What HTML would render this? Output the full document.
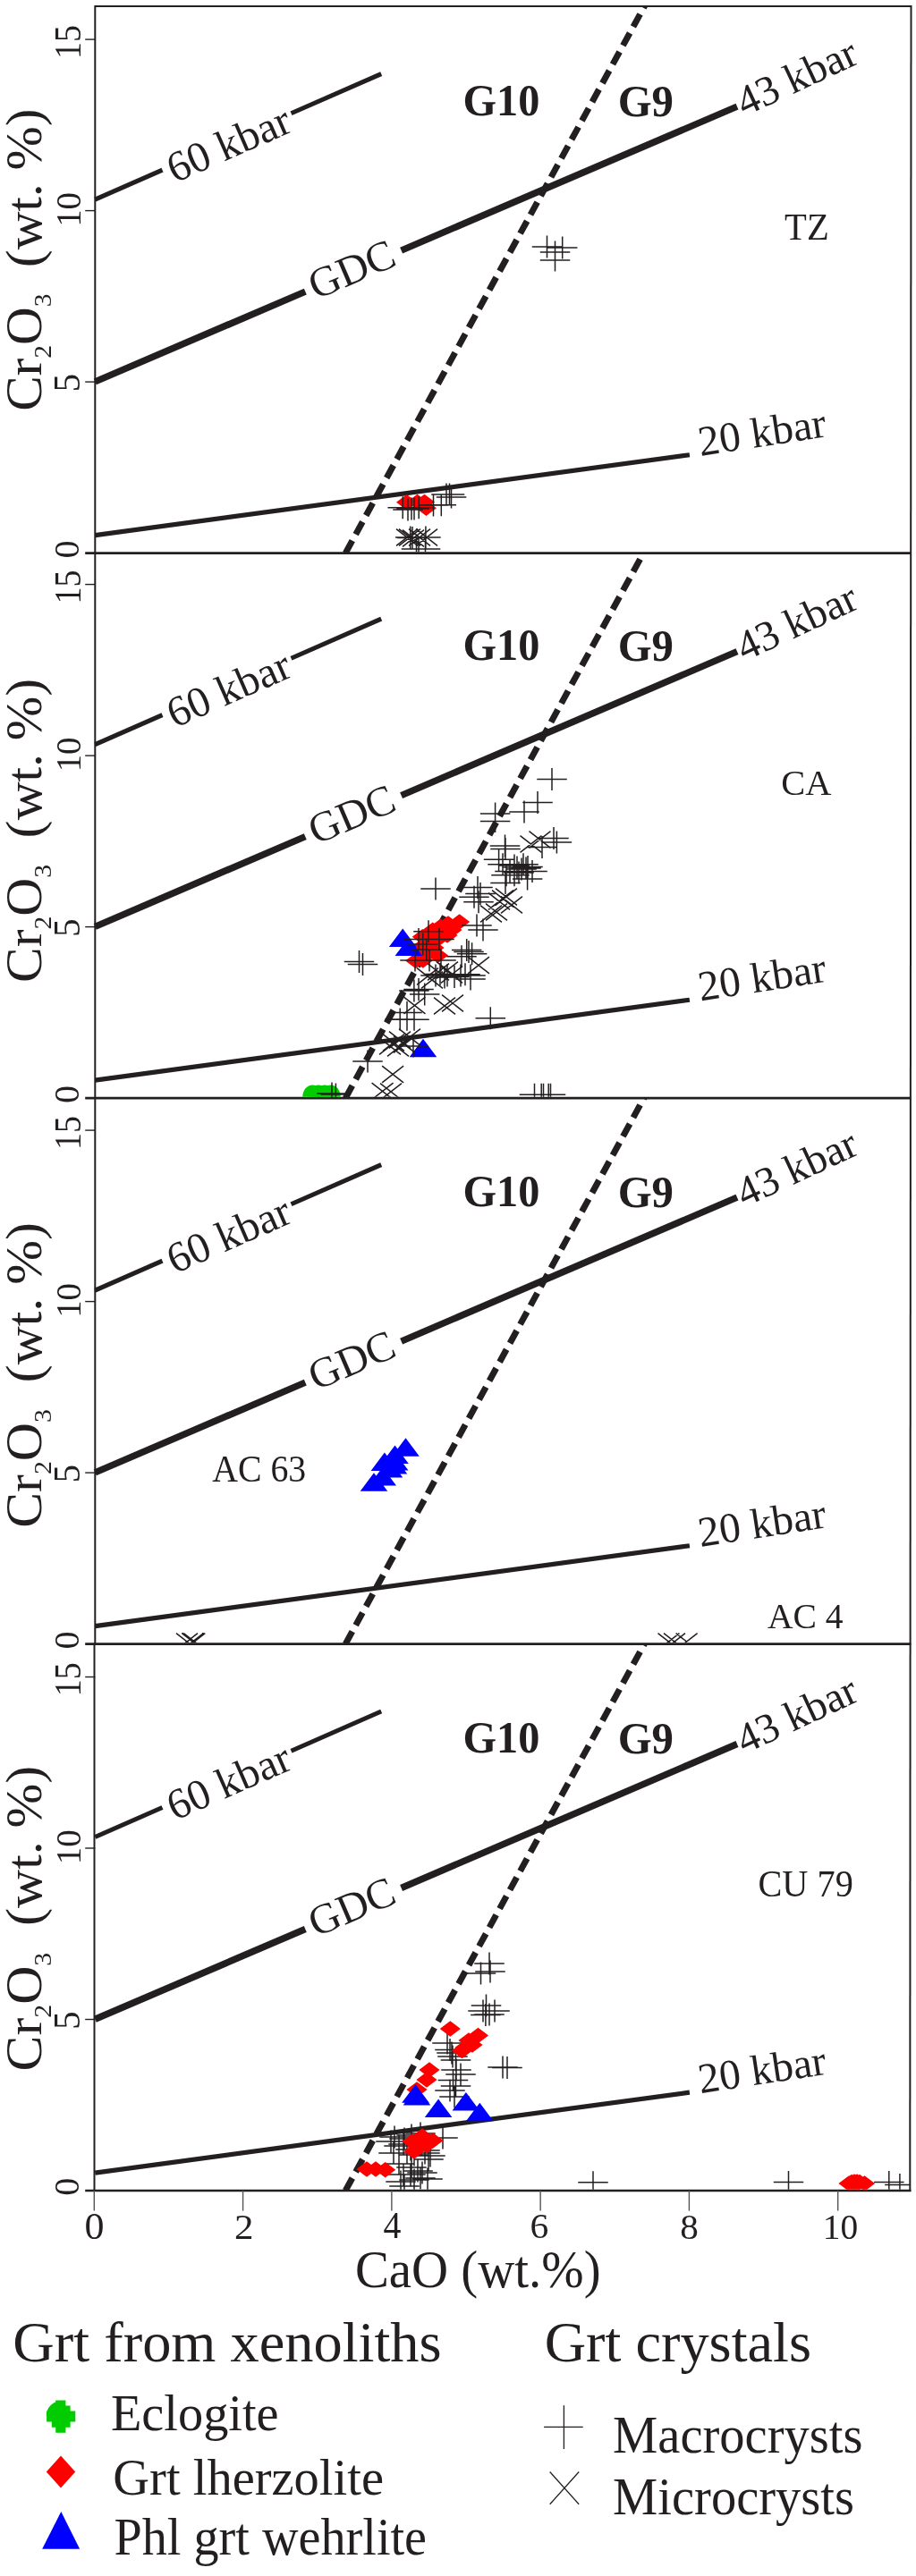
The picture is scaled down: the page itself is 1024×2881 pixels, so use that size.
<!DOCTYPE html>
<html><head><meta charset="utf-8"><style>html,body{margin:0;padding:0;background:#fff}svg{display:block;will-change:transform}</style></head>
<body><svg width="1024" height="2881" viewBox="0 0 1024 2881">
<line x1="106.3" y1="6.9" x2="1018.5" y2="6.9" stroke="#231f20" stroke-width="2"/>
<line x1="106.3" y1="5.9" x2="106.3" y2="1838.6" stroke="#231f20" stroke-width="2"/>
<line x1="105.5" y1="1838.6" x2="105.5" y2="2451" stroke="#231f20" stroke-width="2"/>
<line x1="1018.5" y1="5.9" x2="1017.3" y2="2451" stroke="#231f20" stroke-width="2"/>
<line x1="95.2" y1="618.6" x2="1018.4" y2="618.6" stroke="#231f20" stroke-width="2.6"/>
<line x1="95.2" y1="427.1" x2="106.3" y2="427.1" stroke="#231f20" stroke-width="1.4"/>
<line x1="95.2" y1="235.6" x2="106.3" y2="235.6" stroke="#231f20" stroke-width="1.4"/>
<line x1="95.2" y1="44.1" x2="106.3" y2="44.1" stroke="#231f20" stroke-width="1.4"/>
<line x1="106.3" y1="223.13" x2="181.5" y2="190.09" stroke="#231f20" stroke-width="5"/>
<line x1="325.5" y1="126.83" x2="426.2" y2="82.59" stroke="#231f20" stroke-width="5"/>
<line x1="106.3" y1="426.89" x2="341.3" y2="326.12" stroke="#231f20" stroke-width="7.5"/>
<line x1="448.6" y1="280.11" x2="824" y2="119.14" stroke="#231f20" stroke-width="7.5"/>
<line x1="106.3" y1="598.7" x2="770.9" y2="508.71" stroke="#231f20" stroke-width="5.2"/>
<clipPath id="cp0"><rect x="106.3" y="6.9" width="912" height="611.7"/></clipPath>
<line clip-path="url(#cp0)" x1="386.2" y1="618.6" x2="735.96" y2="-21.4" stroke="#231f20" stroke-width="7" stroke-dasharray="15.9 8.06"/>
<line x1="95.2" y1="1228.1" x2="1018.4" y2="1228.1" stroke="#231f20" stroke-width="2.6"/>
<line x1="95.2" y1="1036.6" x2="106.3" y2="1036.6" stroke="#231f20" stroke-width="1.4"/>
<line x1="95.2" y1="845.1" x2="106.3" y2="845.1" stroke="#231f20" stroke-width="1.4"/>
<line x1="95.2" y1="653.6" x2="106.3" y2="653.6" stroke="#231f20" stroke-width="1.4"/>
<line x1="106.3" y1="832.63" x2="181.5" y2="799.59" stroke="#231f20" stroke-width="5"/>
<line x1="325.5" y1="736.33" x2="426.2" y2="692.09" stroke="#231f20" stroke-width="5"/>
<line x1="106.3" y1="1036.39" x2="341.3" y2="935.62" stroke="#231f20" stroke-width="7.5"/>
<line x1="448.6" y1="889.61" x2="824" y2="728.64" stroke="#231f20" stroke-width="7.5"/>
<line x1="106.3" y1="1208.2" x2="770.9" y2="1118.21" stroke="#231f20" stroke-width="5.2"/>
<clipPath id="cp1"><rect x="106.3" y="618.6" width="912" height="609.5"/></clipPath>
<line clip-path="url(#cp1)" x1="386.2" y1="1228.1" x2="735.96" y2="588.1" stroke="#231f20" stroke-width="7" stroke-dasharray="15.9 8.06"/>
<line x1="95.2" y1="1838.6" x2="1018.4" y2="1838.6" stroke="#231f20" stroke-width="2.6"/>
<line x1="95.2" y1="1647.1" x2="106.3" y2="1647.1" stroke="#231f20" stroke-width="1.4"/>
<line x1="95.2" y1="1455.6" x2="106.3" y2="1455.6" stroke="#231f20" stroke-width="1.4"/>
<line x1="95.2" y1="1264.1" x2="106.3" y2="1264.1" stroke="#231f20" stroke-width="1.4"/>
<line x1="106.3" y1="1443.13" x2="181.5" y2="1410.09" stroke="#231f20" stroke-width="5"/>
<line x1="325.5" y1="1346.83" x2="426.2" y2="1302.59" stroke="#231f20" stroke-width="5"/>
<line x1="106.3" y1="1646.89" x2="341.3" y2="1546.12" stroke="#231f20" stroke-width="7.5"/>
<line x1="448.6" y1="1500.11" x2="824" y2="1339.14" stroke="#231f20" stroke-width="7.5"/>
<line x1="106.3" y1="1818.7" x2="770.9" y2="1728.71" stroke="#231f20" stroke-width="5.2"/>
<clipPath id="cp2"><rect x="106.3" y="1228.1" width="912" height="610.5"/></clipPath>
<line clip-path="url(#cp2)" x1="386.2" y1="1838.6" x2="735.96" y2="1198.6" stroke="#231f20" stroke-width="7" stroke-dasharray="15.9 8.06"/>
<line x1="95.2" y1="2450" x2="1018.4" y2="2450" stroke="#231f20" stroke-width="2.6"/>
<line x1="95.2" y1="2258.5" x2="106.3" y2="2258.5" stroke="#231f20" stroke-width="1.4"/>
<line x1="95.2" y1="2067" x2="106.3" y2="2067" stroke="#231f20" stroke-width="1.4"/>
<line x1="95.2" y1="1875.5" x2="106.3" y2="1875.5" stroke="#231f20" stroke-width="1.4"/>
<line x1="106.3" y1="2054.53" x2="181.5" y2="2021.49" stroke="#231f20" stroke-width="5"/>
<line x1="325.5" y1="1958.23" x2="426.2" y2="1913.99" stroke="#231f20" stroke-width="5"/>
<line x1="106.3" y1="2258.29" x2="341.3" y2="2157.52" stroke="#231f20" stroke-width="7.5"/>
<line x1="448.6" y1="2111.51" x2="824" y2="1950.54" stroke="#231f20" stroke-width="7.5"/>
<line x1="106.3" y1="2430.1" x2="770.9" y2="2340.11" stroke="#231f20" stroke-width="5.2"/>
<clipPath id="cp3"><rect x="106.3" y="1838.6" width="912" height="611.4"/></clipPath>
<line clip-path="url(#cp3)" x1="386.2" y1="2450" x2="735.96" y2="1810" stroke="#231f20" stroke-width="7" stroke-dasharray="15.9 8.06"/>
<clipPath id="mc0"><rect x="107.3" y="7.9" width="910.2" height="609.4"/></clipPath>
<g clip-path="url(#mc0)">
<path d="M454.6 552.9L466.2 561.7L454.6 570.5L443 561.7ZM466.5 552.7L478.1 561.5L466.5 570.3L454.9 561.5ZM474.5 552.7L486.1 561.5L474.5 570.3L462.9 561.5ZM476.4 559.4L488 568.2L476.4 577L464.8 568.2Z" fill="#ff0000"/>
<path d="M594.75 276H628.25M611.5 263.5V288.5M611.95 277H645.45M628.7 264.5V289.5M603.75 282H637.25M620.5 269.5V294.5M603.75 291H637.25M620.5 278.5V303.5M433.45 567.7H466.95M450.2 555.2V580.2M439.25 570H472.75M456 557.5V582.5M443.25 569H476.75M460 556.5V581.5M446.25 569H479.75M463 556.5V581.5M451.45 567.7H484.95M468.2 555.2V580.2M467.75 565H501.25M484.5 552.5V577.5M476.55 564.7H510.05M493.3 552.2V577.2M485.75 553H519.25M502.5 540.5V565.5M487.75 556H521.25M504.5 543.5V568.5M482.25 553H515.75M499 540.5V565.5M441.95 601H475.45M458.7 588.5V613.5M444.25 601.5H477.75M461 589V614M459.15 601H492.65M475.9 588.5V613.5M448.75 614H482.25M465.5 601.5V626.5M451.25 614H484.75M468 601.5V626.5M458.75 614H492.25M475.5 601.5V626.5" stroke="#231f20" stroke-width="1.5" fill="none"/>
<path d="M443 591.7L467 610.3M443 610.3L467 591.7M446 591.7L470 610.3M446 610.3L470 591.7M450 592.7L474 611.3M450 611.3L474 592.7M457 591.7L481 610.3M457 610.3L481 591.7M465 591.7L489 610.3M465 610.3L489 591.7" stroke="#231f20" stroke-width="1.5" fill="none"/>
</g>
<clipPath id="mc1"><rect x="107.3" y="619.6" width="910.2" height="607.2"/></clipPath>
<g clip-path="url(#mc1)">
<ellipse cx="349.3" cy="1226.5" rx="11" ry="13" fill="#00cc00"/><ellipse cx="356" cy="1226.5" rx="11" ry="13" fill="#00cc00"/><ellipse cx="363" cy="1226.5" rx="11" ry="13" fill="#00cc00"/><ellipse cx="369.7" cy="1226.5" rx="11" ry="13" fill="#00cc00"/>
<path d="M513.6 1022.2L525.2 1031L513.6 1039.8L502 1031ZM501 1024.2L512.6 1033L501 1041.8L489.4 1033ZM492.4 1027.6L504 1036.4L492.4 1045.2L480.8 1036.4ZM483.7 1031.4L495.3 1040.2L483.7 1049L472.1 1040.2ZM472.3 1039L483.9 1047.8L472.3 1056.6L460.7 1047.8ZM480 1036.2L491.6 1045L480 1053.8L468.4 1045ZM495 1033.2L506.6 1042L495 1050.8L483.4 1042ZM505 1031.2L516.6 1040L505 1048.8L493.4 1040ZM490 1041.2L501.6 1050L490 1058.8L478.4 1050ZM478 1046.2L489.6 1055L478 1063.8L466.4 1055ZM470 1051.2L481.6 1060L470 1068.8L458.4 1060ZM489.5 1059.7L501.1 1068.5L489.5 1077.3L477.9 1068.5ZM480 1056.2L491.6 1065L480 1073.8L468.4 1065ZM472.8 1065.1L484.4 1073.9L472.8 1082.7L461.2 1073.9ZM464.7 1065.7L476.3 1074.5L464.7 1083.3L453.1 1074.5ZM485 1051.2L496.6 1060L485 1068.8L473.4 1060ZM500 1037.2L511.6 1046L500 1054.8L488.4 1046Z" fill="#ff0000"/>
<path d="M450.2 1038.6L465.5 1059.1L434.9 1059.1ZM456.9 1048.4L472.2 1068.9L441.6 1068.9ZM473 1161.7L488.3 1182.2L457.7 1182.2Z" fill="#0000ff"/>
<path d="M600.25 871.6H633.75M617 859.1V884.1M584.25 897.5H617.75M601 885V910M569.25 908H602.75M586 895.5V920.5M536.85 910H570.35M553.6 897.5V922.5M536.85 918.5H570.35M553.6 906V931M602.25 937.5H635.75M619 925V950M605.65 942H639.15M622.4 929.5V954.5M589.25 947.5H622.75M606 935V960M547.75 946H581.25M564.5 933.5V958.5M548.25 949.6H581.75M565 937.1V962.1M540.85 961.3H574.35M557.6 948.8V973.8M545.25 966.7H578.75M562 954.2V979.2M568.25 966.7H601.75M585 954.2V979.2M573.25 969.5H606.75M590 957V982M553.25 974.4H586.75M570 961.9V986.9M578.25 974.4H611.75M595 961.9V986.9M549.25 978.8H582.75M566 966.3V991.3M558.25 978.8H591.75M575 966.3V991.3M572.85 983.1H606.35M589.6 970.6V995.6M548.25 987.5H581.75M565 975V1000M517.25 992.4H550.75M534 979.9V1004.9M520.25 999.5H553.75M537 987V1012M513.25 1003.3H546.75M530 990.8V1015.8M518.25 1008.8H551.75M535 996.3V1021.3M470.25 994H503.75M487 981.5V1006.5M516.25 1035H549.75M533 1022.5V1047.5M523.25 1040H556.75M540 1027.5V1052.5M507.25 1064.6H540.75M524 1052.1V1077.1M504.95 1062.5H538.45M521.7 1050V1075M510.85 1066.8H544.35M527.6 1054.3V1079.3M499.25 1069.7H532.75M516 1057.2V1082.2M470.25 1091H503.75M487 1078.5V1103.5M483.25 1091H516.75M500 1078.5V1103.5M498.25 1091H531.75M515 1078.5V1103.5M509.25 1091H542.75M526 1078.5V1103.5M509.25 1095H542.75M526 1082.5V1107.5M475.25 1089.5H508.75M492 1077V1102M491.25 1092.5H524.75M508 1080V1105M503.25 1089.8H536.75M520 1077.3V1102.3M480.25 1093H513.75M497 1080.5V1105.5M462.25 1041.7H495.75M479 1029.2V1054.2M451.25 1050.5H484.75M468 1038V1063M474.25 1050.5H507.75M491 1038V1063M460.05 1062H493.55M476.8 1049.5V1074.5M447.25 1074H480.75M464 1061.5V1086.5M463.25 1074H496.75M480 1061.5V1086.5M476.25 1074H509.75M493 1061.5V1086.5M456.05 1056H489.55M472.8 1043.5V1068.5M561.25 970H594.75M578 957.5V982.5M566.25 972H599.75M583 959.5V984.5M571.25 971H604.75M588 958.5V983.5M563.25 976H596.75M580 963.5V988.5M558.25 968H591.75M575 955.5V980.5M384.75 1075.5H418.25M401.5 1063V1088M388.75 1078.5H422.25M405.5 1066V1091M451.25 1106.5H484.75M468 1094V1119M457.95 1112H491.45M474.7 1099.5V1124.5M446.15 1108H479.65M462.9 1095.5V1120.5M438.25 1132.4H471.75M455 1119.9V1144.9M438.25 1140.3H471.75M455 1127.8V1152.8M446.25 1140.3H479.75M463 1127.8V1152.8M430.45 1140H463.95M447.2 1127.5V1152.5M531.55 1138.8H565.05M548.3 1126.3V1151.3M394.25 1187H427.75M411 1174.5V1199.5M445.25 1170H478.75M462 1157.5V1182.5M580.75 1224.3H614.25M597.5 1211.8V1236.8M588.45 1224.3H621.95M605.2 1211.8V1236.8M590.75 1224.3H624.25M607.5 1211.8V1236.8M596.45 1224.3H629.95M613.2 1211.8V1236.8M598.75 1224.3H632.25M615.5 1211.8V1236.8M354.25 1223H387.75M371 1210.5V1235.5M358.65 1224H392.15M375.4 1211.5V1236.5" stroke="#231f20" stroke-width="1.5" fill="none"/>
<path d="M581.5 934.7L605.5 953.3M581.5 953.3L605.5 934.7M591.5 929.7L615.5 948.3M591.5 948.3L615.5 929.7M550 995.7L574 1014.3M550 1014.3L574 995.7M554 993.7L578 1012.3M554 1012.3L578 993.7M546 998.7L570 1017.3M546 1017.3L570 998.7M560 1002.7L584 1021.3M560 1021.3L584 1002.7M537 1012.7L561 1031.3M537 1031.3L561 1012.7M543 1010.7L567 1029.3M543 1029.3L567 1010.7M523 1070.2L547 1088.8M523 1088.8L547 1070.2M478 1077.7L502 1096.3M478 1096.3L502 1077.7M488 1075.7L512 1094.3M488 1094.3L512 1075.7M493 1080.7L517 1099.3M493 1099.3L517 1080.7M466 1082.7L490 1101.3M466 1101.3L490 1082.7M471 1086.7L495 1105.3M471 1105.3L495 1086.7M451.5 1115.2L475.5 1133.8M451.5 1133.8L475.5 1115.2M485 1115.7L509 1134.3M485 1134.3L509 1115.7M494 1112.7L518 1131.3M494 1131.3L518 1112.7M428 1156.7L452 1175.3M428 1175.3L452 1156.7M435 1153.7L459 1172.3M435 1172.3L459 1153.7M440 1158.7L464 1177.3M440 1177.3L464 1158.7M433 1162.7L457 1181.3M433 1181.3L457 1162.7M446 1150.7L470 1169.3M446 1169.3L470 1150.7M424 1160.7L448 1179.3M424 1179.3L448 1160.7M427.1 1192.2L451.1 1210.8M427.1 1210.8L451.1 1192.2M415.6 1211.2L439.6 1229.8M415.6 1229.8L439.6 1211.2M425 1211.7L449 1230.3M425 1230.3L449 1211.7" stroke="#231f20" stroke-width="1.5" fill="none"/>
</g>
<clipPath id="mc2"><rect x="107.3" y="1229.1" width="910.2" height="608.2"/></clipPath>
<g clip-path="url(#mc2)">
<path d="M453.5 1608.3L468.8 1628.8L438.2 1628.8ZM441.5 1616.6L456.8 1637.1L426.2 1637.1ZM441.2 1624L456.5 1644.5L425.9 1644.5ZM440 1628L455.3 1648.5L424.7 1648.5ZM429.9 1624.5L445.2 1645L414.6 1645ZM435 1632L450.3 1652.5L419.7 1652.5ZM427.7 1641.1L443 1661.6L412.4 1661.6ZM418 1647.2L433.3 1667.7L402.7 1667.7Z" fill="#0000ff"/>
<path d="M197 1826.7L221 1845.3M197 1845.3L221 1826.7M203.4 1826.7L227.4 1845.3M203.4 1845.3L227.4 1826.7M203.6 1826.7L227.6 1845.3M203.6 1845.3L227.6 1826.7M205.3 1826.7L229.3 1845.3M205.3 1845.3L229.3 1826.7M735.5 1826.7L759.5 1845.3M735.5 1845.3L759.5 1826.7M742 1826.7L766 1845.3M742 1845.3L766 1826.7M755.6 1826.7L779.6 1845.3M755.6 1845.3L779.6 1826.7" stroke="#231f20" stroke-width="1.5" fill="none"/>
</g>
<clipPath id="mc3"><rect x="107.3" y="1839.6" width="910.2" height="609.1"/></clipPath>
<g clip-path="url(#mc3)">
<path d="M531.25 2205H564.75M548 2192.5V2217.5M530.25 2196H563.75M547 2183.5V2208.5M520.75 2207H554.25M537.5 2194.5V2219.5M526.75 2243H560.25M543.5 2230.5V2255.5M523.25 2249H556.75M540 2236.5V2261.5M536.25 2249H569.75M553 2236.5V2261.5M526.15 2253.4H559.65M542.9 2240.9V2265.9M530.25 2253H563.75M547 2240.5V2265.5M545.25 2312H578.75M562 2299.5V2324.5M550.25 2312.5H583.75M567 2300V2325M486.25 2292.5H519.75M503 2280V2305M492.75 2304H526.25M509.5 2291.5V2316.5M488.25 2296H521.75M505 2283.5V2308.5M489.75 2326.5H523.25M506.5 2314V2339M492.75 2333H526.25M509.5 2320.5V2345.5M498.25 2320H531.75M515 2307.5V2332.5M424.25 2390H457.75M441 2377.5V2402.5M435.25 2392H468.75M452 2379.5V2404.5M443.25 2388H476.75M460 2375.5V2400.5M453.25 2386H486.75M470 2373.5V2398.5M478.25 2391H511.75M495 2378.5V2403.5M423.25 2408H456.75M440 2395.5V2420.5M438.25 2408H471.75M455 2395.5V2420.5M458.25 2408H491.75M475 2395.5V2420.5M464.25 2411H497.75M481 2398.5V2423.5M443.25 2424H476.75M460 2411.5V2436.5M450.25 2428H483.75M467 2415.5V2440.5M435.25 2445H468.75M452 2432.5V2457.5M431.25 2440H464.75M448 2427.5V2452.5M453.25 2436H486.75M470 2423.5V2448.5M420.25 2395H453.75M437 2382.5V2407.5M429.25 2400H462.75M446 2387.5V2412.5M434.25 2398H467.75M451 2385.5V2410.5M442.25 2404H475.75M459 2391.5V2416.5M446.25 2410H479.75M463 2397.5V2422.5M454.25 2398H487.75M471 2385.5V2410.5M458.25 2405H491.75M475 2392.5V2417.5M462.25 2415H495.75M479 2402.5V2427.5M429.25 2420H462.75M446 2407.5V2432.5M434.25 2432H467.75M451 2419.5V2444.5M442.25 2432H475.75M459 2419.5V2444.5M446.25 2438H479.75M463 2425.5V2450.5M455.25 2430H488.75M472 2417.5V2442.5M461.25 2437H494.75M478 2424.5V2449.5M489.25 2300H522.75M506 2287.5V2312.5M493.25 2315H526.75M510 2302.5V2327.5M486.25 2338H519.75M503 2325.5V2350.5M491.25 2345H524.75M508 2332.5V2357.5M483.25 2285H516.75M500 2272.5V2297.5M646.25 2440.7H679.75M663 2428.2V2453.2M864.75 2440.5H898.25M881.5 2428V2453M977.05 2440.5H1010.55M993.8 2428V2453M989.15 2443.5H1022.65M1005.9 2431V2456" stroke="#231f20" stroke-width="1.5" fill="none"/>
<path d="M503.3 2260.2L514.9 2269L503.3 2277.8L491.7 2269ZM534.5 2267.7L546.1 2276.5L534.5 2285.3L522.9 2276.5ZM524 2273.2L535.6 2282L524 2290.8L512.4 2282ZM528 2278.2L539.6 2287L528 2295.8L516.4 2287ZM520 2281.2L531.6 2290L520 2298.8L508.4 2290ZM516.5 2284.7L528.1 2293.5L516.5 2302.3L504.9 2293.5ZM480 2306.2L491.6 2315L480 2323.8L468.4 2315ZM477 2317.2L488.6 2326L477 2334.8L465.4 2326ZM466 2328.2L477.6 2337L466 2345.8L454.4 2337ZM461 2386.2L472.6 2395L461 2403.8L449.4 2395ZM472 2380.2L483.6 2389L472 2397.8L460.4 2389ZM484 2385.2L495.6 2394L484 2402.8L472.4 2394ZM463 2397.2L474.6 2406L463 2414.8L451.4 2406ZM470 2387.2L481.6 2396L470 2404.8L458.4 2396ZM477 2390.2L488.6 2399L477 2407.8L465.4 2399ZM467 2392.2L478.6 2401L467 2409.8L455.4 2401ZM474 2383.2L485.6 2392L474 2400.8L462.4 2392ZM410 2417.2L421.6 2426L410 2434.8L398.4 2426ZM420 2417.2L431.6 2426L420 2434.8L408.4 2426ZM430.7 2418L442.3 2426.8L430.7 2435.6L419.1 2426.8ZM949 2433.2L960.6 2442L949 2450.8L937.4 2442ZM952 2431.7L963.6 2440.5L952 2449.3L940.4 2440.5ZM955 2431.2L966.6 2440L955 2448.8L943.4 2440ZM958 2431.2L969.6 2440L958 2448.8L946.4 2440ZM961 2431.7L972.6 2440.5L961 2449.3L949.4 2440.5ZM966.5 2433.2L978.1 2442L966.5 2450.8L954.9 2442ZM957 2434.2L968.6 2443L957 2451.8L945.4 2443Z" fill="#ff0000"/>
<path d="M464.5 2331.3L479.8 2351.8L449.2 2351.8ZM466 2334L481.3 2354.5L450.7 2354.5ZM490.1 2347.6L505.4 2368.1L474.8 2368.1ZM520.9 2340L536.2 2360.5L505.6 2360.5ZM536.3 2351.7L551.6 2372.2L521 2372.2Z" fill="#0000ff"/>
</g>
<path d="M62.2 2684.6H73.4V2690.6H78.6V2696.6H84.3V2708.6H78.6V2714.8H73.4V2720.8H62.2V2714.8H57.8V2708.6H52.1V2696.6H57.8V2690.6H62.2Z" fill="#00cc00"/>
<path d="M68.2 2701.5L51.9 2701.5A16.3 16.3 0 0 1 68.2 2685.2Z" fill="#00cc00"/>
<path d="M68 2746.4L84.2 2764.4L68 2782.4L51.8 2764.4Z" fill="#ff0000"/>
<path d="M68.3 2809.1L89.1 2850.7L47.2 2850.7Z" fill="#0000ff"/>
<path d="M608.1 2714.3H651.7M630.4 2690.2V2739" stroke="#231f20" stroke-width="1.3" fill="none"/>
<path d="M614.7 2764.5L647.2 2800.8M647.2 2764.5L614.7 2800.8" stroke="#231f20" stroke-width="1.3" fill="none"/>
<line x1="105.3" y1="2450" x2="105.3" y2="2472.6" stroke="#555" stroke-width="1.4"/>
<line x1="271.58" y1="2450" x2="271.58" y2="2472.6" stroke="#555" stroke-width="1.4"/>
<line x1="437.86" y1="2450" x2="437.86" y2="2472.6" stroke="#555" stroke-width="1.4"/>
<line x1="604.14" y1="2450" x2="604.14" y2="2472.6" stroke="#555" stroke-width="1.4"/>
<line x1="770.42" y1="2450" x2="770.42" y2="2472.6" stroke="#555" stroke-width="1.4"/>
<line x1="936.7" y1="2450" x2="936.7" y2="2472.6" stroke="#555" stroke-width="1.4"/>
<g transform="translate(517.38,128.79) scale(0.4834,0.5059)"><text fill="#231f20" x="0" y="0" font-family="Liberation Serif" font-size="100" font-weight="bold">G10</text></g>
<g transform="translate(690.66,129.89) scale(0.4882,0.5074)"><text fill="#231f20" x="0" y="0" font-family="Liberation Serif" font-size="100" font-weight="bold">G9</text></g>
<g transform="translate(90.08,65.91) rotate(-90) scale(0.3793,0.4209)"><text fill="#231f20" x="0" y="0" font-family="Liberation Serif" font-size="100">15</text></g>
<g transform="translate(89.99,253.8) rotate(-90) scale(0.3885,0.4059)"><text fill="#231f20" x="0" y="0" font-family="Liberation Serif" font-size="100">10</text></g>
<g transform="translate(88.99,438.25) rotate(-90) scale(0.4075,0.4136)"><text fill="#231f20" x="0" y="0" font-family="Liberation Serif" font-size="100">5</text></g>
<g transform="translate(88.11,624.41) rotate(-90) scale(0.4024,0.3926)"><text fill="#231f20" x="0" y="0" font-family="Liberation Serif" font-size="100">0</text></g>
<g transform="translate(45.92,459.87) rotate(-90) scale(0.5913,0.5611)"><text fill="#231f20" x="0" y="0" font-family="Liberation Serif" font-size="100">Cr<tspan dy="20" font-size="50">2</tspan><tspan dy="-20">O</tspan><tspan dy="20" font-size="50">3</tspan><tspan dy="-20" xml:space="preserve">  (wt. %)</tspan></text></g>
<g transform="translate(256.2,160.6) rotate(-23.7) scale(0.4815,0.4815) translate(-153,33.5)"><text fill="#231f20" x="0" y="0" font-family="Liberation Serif" font-size="100">60 kbar</text></g>
<g transform="translate(393,301.8) rotate(-23.2) scale(0.4752,0.4752) translate(-105,32)"><text fill="#231f20" x="0" y="0" font-family="Liberation Serif" font-size="100">GDC</text></g>
<g transform="translate(890.6,85.6) rotate(-25.0) scale(0.4730,0.4730) translate(-152,34)"><text fill="#231f20" x="0" y="0" font-family="Liberation Serif" font-size="100">43 kbar</text></g>
<g transform="translate(852.5,483.2) rotate(-8.7) scale(0.4755,0.4755) translate(-153,33.5)"><text fill="#231f20" x="0" y="0" font-family="Liberation Serif" font-size="100">20 kbar</text></g>
<g transform="translate(517.38,738.29) scale(0.4834,0.5059)"><text fill="#231f20" x="0" y="0" font-family="Liberation Serif" font-size="100" font-weight="bold">G10</text></g>
<g transform="translate(690.66,739.39) scale(0.4882,0.5074)"><text fill="#231f20" x="0" y="0" font-family="Liberation Serif" font-size="100" font-weight="bold">G9</text></g>
<g transform="translate(90.08,675.41) rotate(-90) scale(0.3793,0.4209)"><text fill="#231f20" x="0" y="0" font-family="Liberation Serif" font-size="100">15</text></g>
<g transform="translate(89.99,863.3) rotate(-90) scale(0.3885,0.4059)"><text fill="#231f20" x="0" y="0" font-family="Liberation Serif" font-size="100">10</text></g>
<g transform="translate(88.99,1047.74) rotate(-90) scale(0.4075,0.4136)"><text fill="#231f20" x="0" y="0" font-family="Liberation Serif" font-size="100">5</text></g>
<g transform="translate(88.11,1233.91) rotate(-90) scale(0.4024,0.3926)"><text fill="#231f20" x="0" y="0" font-family="Liberation Serif" font-size="100">0</text></g>
<g transform="translate(46.07,1098.98) rotate(-90) scale(0.5945,0.5633)"><text fill="#231f20" x="0" y="0" font-family="Liberation Serif" font-size="100">Cr<tspan dy="20" font-size="50">2</tspan><tspan dy="-20">O</tspan><tspan dy="20" font-size="50">3</tspan><tspan dy="-20" xml:space="preserve">  (wt. %)</tspan></text></g>
<g transform="translate(256.2,770.1) rotate(-23.7) scale(0.4815,0.4815) translate(-153,33.5)"><text fill="#231f20" x="0" y="0" font-family="Liberation Serif" font-size="100">60 kbar</text></g>
<g transform="translate(393,911.3) rotate(-23.2) scale(0.4752,0.4752) translate(-105,32)"><text fill="#231f20" x="0" y="0" font-family="Liberation Serif" font-size="100">GDC</text></g>
<g transform="translate(890.6,695.1) rotate(-25.0) scale(0.4730,0.4730) translate(-152,34)"><text fill="#231f20" x="0" y="0" font-family="Liberation Serif" font-size="100">43 kbar</text></g>
<g transform="translate(852.5,1092.7) rotate(-8.7) scale(0.4755,0.4755) translate(-153,33.5)"><text fill="#231f20" x="0" y="0" font-family="Liberation Serif" font-size="100">20 kbar</text></g>
<g transform="translate(517.38,1348.79) scale(0.4834,0.5059)"><text fill="#231f20" x="0" y="0" font-family="Liberation Serif" font-size="100" font-weight="bold">G10</text></g>
<g transform="translate(690.66,1349.89) scale(0.4882,0.5074)"><text fill="#231f20" x="0" y="0" font-family="Liberation Serif" font-size="100" font-weight="bold">G9</text></g>
<g transform="translate(90.08,1285.91) rotate(-90) scale(0.3793,0.4209)"><text fill="#231f20" x="0" y="0" font-family="Liberation Serif" font-size="100">15</text></g>
<g transform="translate(89.99,1473.8) rotate(-90) scale(0.3885,0.4059)"><text fill="#231f20" x="0" y="0" font-family="Liberation Serif" font-size="100">10</text></g>
<g transform="translate(88.99,1658.24) rotate(-90) scale(0.4075,0.4136)"><text fill="#231f20" x="0" y="0" font-family="Liberation Serif" font-size="100">5</text></g>
<g transform="translate(88.11,1844.41) rotate(-90) scale(0.4024,0.3926)"><text fill="#231f20" x="0" y="0" font-family="Liberation Serif" font-size="100">0</text></g>
<g transform="translate(46.07,1708.79) rotate(-90) scale(0.5972,0.5633)"><text fill="#231f20" x="0" y="0" font-family="Liberation Serif" font-size="100">Cr<tspan dy="20" font-size="50">2</tspan><tspan dy="-20">O</tspan><tspan dy="20" font-size="50">3</tspan><tspan dy="-20" xml:space="preserve">  (wt. %)</tspan></text></g>
<g transform="translate(256.2,1380.6) rotate(-23.7) scale(0.4815,0.4815) translate(-153,33.5)"><text fill="#231f20" x="0" y="0" font-family="Liberation Serif" font-size="100">60 kbar</text></g>
<g transform="translate(393,1521.8) rotate(-23.2) scale(0.4752,0.4752) translate(-105,32)"><text fill="#231f20" x="0" y="0" font-family="Liberation Serif" font-size="100">GDC</text></g>
<g transform="translate(890.6,1305.6) rotate(-25.0) scale(0.4730,0.4730) translate(-152,34)"><text fill="#231f20" x="0" y="0" font-family="Liberation Serif" font-size="100">43 kbar</text></g>
<g transform="translate(852.5,1703.2) rotate(-8.7) scale(0.4755,0.4755) translate(-153,33.5)"><text fill="#231f20" x="0" y="0" font-family="Liberation Serif" font-size="100">20 kbar</text></g>
<g transform="translate(517.38,1960.19) scale(0.4834,0.5059)"><text fill="#231f20" x="0" y="0" font-family="Liberation Serif" font-size="100" font-weight="bold">G10</text></g>
<g transform="translate(690.66,1961.29) scale(0.4882,0.5074)"><text fill="#231f20" x="0" y="0" font-family="Liberation Serif" font-size="100" font-weight="bold">G9</text></g>
<g transform="translate(90.08,1897.31) rotate(-90) scale(0.3793,0.4209)"><text fill="#231f20" x="0" y="0" font-family="Liberation Serif" font-size="100">15</text></g>
<g transform="translate(89.99,2085.2) rotate(-90) scale(0.3885,0.4059)"><text fill="#231f20" x="0" y="0" font-family="Liberation Serif" font-size="100">10</text></g>
<g transform="translate(88.99,2269.65) rotate(-90) scale(0.4075,0.4136)"><text fill="#231f20" x="0" y="0" font-family="Liberation Serif" font-size="100">5</text></g>
<g transform="translate(88.11,2455.81) rotate(-90) scale(0.4024,0.3926)"><text fill="#231f20" x="0" y="0" font-family="Liberation Serif" font-size="100">0</text></g>
<g transform="translate(46.07,2316.39) rotate(-90) scale(0.5972,0.5633)"><text fill="#231f20" x="0" y="0" font-family="Liberation Serif" font-size="100">Cr<tspan dy="20" font-size="50">2</tspan><tspan dy="-20">O</tspan><tspan dy="20" font-size="50">3</tspan><tspan dy="-20" xml:space="preserve">  (wt. %)</tspan></text></g>
<g transform="translate(256.2,1992) rotate(-23.7) scale(0.4815,0.4815) translate(-153,33.5)"><text fill="#231f20" x="0" y="0" font-family="Liberation Serif" font-size="100">60 kbar</text></g>
<g transform="translate(393,2133.2) rotate(-23.2) scale(0.4752,0.4752) translate(-105,32)"><text fill="#231f20" x="0" y="0" font-family="Liberation Serif" font-size="100">GDC</text></g>
<g transform="translate(890.6,1917) rotate(-25.0) scale(0.4730,0.4730) translate(-152,34)"><text fill="#231f20" x="0" y="0" font-family="Liberation Serif" font-size="100">43 kbar</text></g>
<g transform="translate(852.5,2314.6) rotate(-8.7) scale(0.4755,0.4755) translate(-153,33.5)"><text fill="#231f20" x="0" y="0" font-family="Liberation Serif" font-size="100">20 kbar</text></g>
<g transform="translate(877.09,267.6) scale(0.4061,0.4169)"><text fill="#231f20" x="0" y="0" font-family="Liberation Serif" font-size="100">TZ</text></g>
<g transform="translate(873.18,888.91) scale(0.4045,0.3971)"><text fill="#231f20" x="0" y="0" font-family="Liberation Serif" font-size="100">CA</text></g>
<g transform="translate(237.2,1657.36) scale(0.3981,0.4221)"><text fill="#231f20" x="0" y="0" font-family="Liberation Serif" font-size="100">AC 63</text></g>
<g transform="translate(857.9,1821.09) scale(0.3958,0.4044)"><text fill="#231f20" x="0" y="0" font-family="Liberation Serif" font-size="100">AC 4</text></g>
<g transform="translate(847.49,2120.77) scale(0.4031,0.4147)"><text fill="#231f20" x="0" y="0" font-family="Liberation Serif" font-size="100">CU 79</text></g>
<g transform="translate(396.93,2557.67) scale(0.5686,0.5822)"><text fill="#231f20" x="0" y="0" font-family="Liberation Serif" font-size="100">CaO (wt.%)</text></g>
<g transform="translate(94.54,2503.57) scale(0.4405,0.4132)"><text fill="#231f20" x="0" y="0" font-family="Liberation Serif" font-size="100">0</text></g>
<g transform="translate(261.98,2503.59) scale(0.4293,0.4060)"><text fill="#231f20" x="0" y="0" font-family="Liberation Serif" font-size="100">2</text></g>
<g transform="translate(428.4,2503.48) scale(0.3979,0.4167)"><text fill="#231f20" x="0" y="0" font-family="Liberation Serif" font-size="100">4</text></g>
<g transform="translate(592.53,2503.48) scale(0.4163,0.4103)"><text fill="#231f20" x="0" y="0" font-family="Liberation Serif" font-size="100">6</text></g>
<g transform="translate(760.35,2503.79) scale(0.4119,0.4059)"><text fill="#231f20" x="0" y="0" font-family="Liberation Serif" font-size="100">8</text></g>
<g transform="translate(919.85,2503.79) scale(0.3943,0.4059)"><text fill="#231f20" x="0" y="0" font-family="Liberation Serif" font-size="100">10</text></g>
<g transform="translate(14.32,2640.53) scale(0.6440,0.6356)"><text fill="#231f20" x="0" y="0" font-family="Liberation Serif" font-size="100">Grt from xenoliths</text></g>
<g transform="translate(123.91,2717.82) scale(0.5633,0.5611)"><text fill="#231f20" x="0" y="0" font-family="Liberation Serif" font-size="100">Eclogite</text></g>
<g transform="translate(126.34,2789.76) scale(0.5648,0.5704)"><text fill="#231f20" x="0" y="0" font-family="Liberation Serif" font-size="100">Grt lherzolite</text></g>
<g transform="translate(127.51,2856.68) scale(0.5619,0.5867)"><text fill="#231f20" x="0" y="0" font-family="Liberation Serif" font-size="100">Phl grt wehrlite</text></g>
<g transform="translate(608.63,2641.44) scale(0.6434,0.6411)"><text fill="#231f20" x="0" y="0" font-family="Liberation Serif" font-size="100">Grt crystals</text></g>
<g transform="translate(685.1,2743.49) scale(0.5654,0.5814)"><text fill="#231f20" x="0" y="0" font-family="Liberation Serif" font-size="100">Macrocrysts</text></g>
<g transform="translate(685.1,2812.09) scale(0.5652,0.5908)"><text fill="#231f20" x="0" y="0" font-family="Liberation Serif" font-size="100">Microcrysts</text></g>
</svg></body></html>
